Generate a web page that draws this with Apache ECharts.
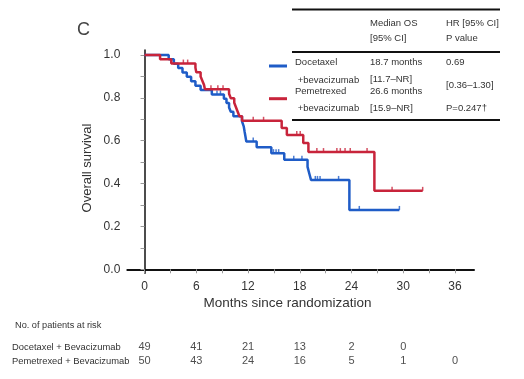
<!DOCTYPE html>
<html><head><meta charset="utf-8">
<script src="https://cdn.jsdelivr.net/npm/echarts@6/dist/echarts.min.js"></script>
<style>html,body{margin:0;padding:0;background:#fff}#c{width:524px;height:379px}</style>
</head><body><div id="c"></div>
<script>
// ---- data ----
const docT = [0, 2.8, 3.4, 3.9, 4.4, 4.9, 5.4, 5.9, 6.5, 7.8, 9.2, 9.5, 9.8, 10.0, 10.3, 11.3, 11.5, 11.6, 11.7, 11.8, 13.0, 14.7, 16.2, 18.9, 19.1, 19.3, 23.75, 29.55];
const docS = [1.0, 0.98, 0.959, 0.939, 0.918, 0.898, 0.878, 0.857, 0.837, 0.816, 0.796, 0.776, 0.755, 0.735, 0.714, 0.69, 0.667, 0.643, 0.62, 0.596, 0.569, 0.542, 0.511, 0.478, 0.447, 0.417, 0.277, 0.277];
const docCens = [8.4, 8.8, 12.6, 14.95, 15.25, 15.55, 17.3, 18.25, 19.8, 20.05, 20.35, 22.5, 24.9, 29.55];
const pemT = [0, 1.8, 3.1, 5.9, 6.0, 6.5, 6.7, 6.9, 7.0, 9.8, 10.0, 10.4, 10.6, 10.8, 11.0, 11.3, 15.9, 16.5, 18.4, 19.0, 26.65, 32.25];
const pemS = [1.0, 0.98, 0.96, 0.94, 0.92, 0.90, 0.88, 0.86, 0.84, 0.819, 0.798, 0.777, 0.756, 0.735, 0.714, 0.693, 0.659, 0.627, 0.589, 0.547, 0.366, 0.366];
const pemCens = [4.5, 5.0, 7.7, 8.5, 9.1, 12.6, 13.8, 17.65, 18.05, 19.98, 20.75, 22.3, 22.7, 23.25, 23.85, 25.8, 28.7, 32.25];
const riskMonths = [0, 6, 12, 18, 24, 30, 36];
const riskDoc = [49, 41, 21, 13, 2, 0];
const riskPem = [50, 43, 24, 16, 5, 1, 0];
const groups = ['Docetaxel + Bevacizumab', 'Pemetrexed + Bevacizumab'];
const xLabelValues = [0, 6, 12, 18, 24, 30, 36];
const xTickValues = [0, 3, 6, 9, 12, 15, 18, 21, 24, 27, 30, 33, 36];
const yLabelValues = [0, 0.2, 0.4, 0.6, 0.8, 1.0];
const yTickValues = [0, 0.1, 0.2, 0.3, 0.4, 0.5, 0.6, 0.7, 0.8, 0.9, 1.0];
const tableHeader = [['Median OS', '[95% CI]'], ['HR [95% CI]', 'P value']];
const tableRows = [
  ['Docetaxel', '18.7 months', '0.69'],
  [' +bevacizumab', '[11.7\u2013NR]', '[0.36\u20131.30]'],
  ['Pemetrexed', '26.6 months', ''],
  [' +bevacizumab', '[15.9\u2013NR]', 'P=0.247\u2020']
];

const BLUE = '#1f5cc7', RED = '#c8243b';
const FONT = '"Liberation Sans", Arial, sans-serif';
function lookup(T, S, t) { let v = S[0]; for (let i = 0; i < T.length; i++) if (T[i] <= t) v = S[i]; return v; }

const chart = echarts.init(document.getElementById('c'));
const txt = (text, x, y, size, extra) => Object.assign({ type: 'text', style: Object.assign({ text, x, y, font: size + 'px ' + FONT, fill: '#333', verticalAlign: 'middle' }, extra || {}) });
const hline = (x1, x2, y, w, c) => ({ type: 'line', shape: { x1, y1: y, x2, y2: y }, style: { stroke: c || '#111', lineWidth: w } });

const graphics = [
  txt('C', 77, 30, 18, { fill: '#444' }),
  txt('Months since randomization', 287.5, 303, 13.5, { align: 'center' }),
  { type: 'text', x: 87, y: 168, rotation: Math.PI / 2, style: { text: 'Overall survival', font: '13px ' + FONT, fill: '#333', align: 'center', verticalAlign: 'middle' } },
  txt('No. of patients at risk', 15, 325, 9.2),
  hline(292, 500, 9.5, 2), hline(292, 500, 52, 2), hline(292, 500, 120, 2),
  txt(tableHeader[0][0], 370, 23, 9.5), txt(tableHeader[0][1], 370, 38.7, 9.5),
  txt(tableHeader[1][0], 446, 23, 9.5), txt(tableHeader[1][1], 446, 38.7, 9.5),
  hline(269, 287, 66, 3, BLUE), hline(269, 287, 98.7, 3, RED)
];
const rowY = [62.7, 80, 91.3, 108.7];
tableRows.forEach((r, i) => {
  graphics.push(txt(r[0], 295, rowY[i], 9.5));
  graphics.push(txt(r[1], 370, i === 1 ? 79 : rowY[i], 9.5));
});
graphics.push(txt(tableRows[0][2], 446, 62.7, 9.5));
graphics.push(txt(tableRows[1][2], 446, 85, 9.5));
graphics.push(txt(tableRows[3][2], 446, 108.7, 9.5));

chart.setOption({
  animation: false,
  textStyle: { fontFamily: FONT },
  grid: [
    { left: 127.3, right: 50, top: 50, bottom: 105.7 },
    { left: 127.3, right: 50, top: 340, height: 28 }
  ],
  xAxis: [
    { type: 'value', min: -2, max: 38.2, gridIndex: 0, splitLine: { show: false },
      axisLine: { lineStyle: { color: '#111', width: 2 } },
      axisTick: { customValues: xTickValues, length: 4, lineStyle: { color: '#999' } },
      axisLabel: { customValues: xLabelValues, color: '#333', fontSize: 12, margin: 7 } },
    { type: 'value', min: -2, max: 38.2, gridIndex: 1, show: false }
  ],
  yAxis: [
    { type: 'value', min: -0.0187, max: 1.0233, gridIndex: 0, splitLine: { show: false },
      axisLine: { show: true, lineStyle: { color: '#111', width: 1.5 } },
      axisTick: { show: true, customValues: yTickValues, length: 4, lineStyle: { color: '#999' } },
      axisLabel: { customValues: yLabelValues, color: '#333', fontSize: 12, margin: 7, formatter: v => v.toFixed(1) } },
    { type: 'category', gridIndex: 1, data: groups, inverse: true,
      axisLine: { show: false }, axisTick: { show: false },
      axisLabel: { align: 'left', margin: 115.3, fontSize: 9.4, color: '#333' } }
  ],
  series: [
    { type: 'line', step: 'end', showSymbol: false, data: docT.map((t, i) => [t, docS[i]]),
      lineStyle: { color: BLUE, width: 2.5 }, itemStyle: { color: BLUE } },
    { type: 'line', step: 'end', showSymbol: false, data: pemT.map((t, i) => [t, pemS[i]]),
      lineStyle: { color: RED, width: 2.5 }, itemStyle: { color: RED } },
    { type: 'scatter', symbol: 'rect', symbolSize: [1.5, 4], symbolOffset: [0, -2], silent: true,
      data: docCens.map(t => [t, lookup(docT, docS, t)]), itemStyle: { color: BLUE } },
    { type: 'scatter', symbol: 'rect', symbolSize: [1.5, 4], symbolOffset: [0, -2], silent: true,
      data: pemCens.map(t => [t, lookup(pemT, pemS, t)]), itemStyle: { color: RED } },
    { type: 'scatter', xAxisIndex: 1, yAxisIndex: 1, symbolSize: 0,
      data: riskDoc.map((n, i) => [riskMonths[i], groups[0], n]),
      label: { show: true, position: 'inside', formatter: p => p.value[2], color: '#222', fontSize: 11 } },
    { type: 'scatter', xAxisIndex: 1, yAxisIndex: 1, symbolSize: 0,
      data: riskPem.map((n, i) => [riskMonths[i], groups[1], n]),
      label: { show: true, position: 'inside', formatter: p => p.value[2], color: '#222', fontSize: 11 } }
  ],
  graphic: graphics
});
</script></body></html>
